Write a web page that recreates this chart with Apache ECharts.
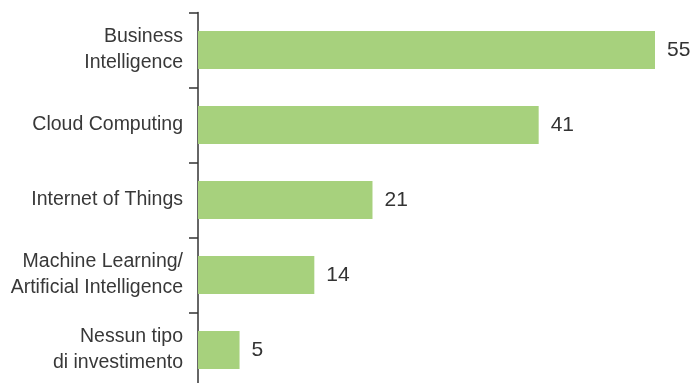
<!DOCTYPE html>
<html>
<head>
<meta charset="utf-8">
<script src="https://cdn.jsdelivr.net/npm/echarts@6/dist/echarts.min.js"></script>
<style>
html,body{margin:0;padding:0;background:#fff;}
#chart{width:690px;height:383px;}
</style>
</head>
<body>
<div id="chart"></div>
<script>
const categories = [
  "Business\nIntelligence",
  "Cloud Computing",
  "Internet of Things",
  "Machine Learning/\nArtificial Intelligence",
  "Nessun tipo\ndi investimento"
];
const values = [55, 41, 21, 14, 5];

const chart = echarts.init(document.getElementById('chart'), null, {renderer: 'canvas'});
chart.setOption({
  animation: false,
  backgroundColor: '#ffffff',
  grid: {left: 198, top: 12.5, width: 457, height: 375, containLabel: false, outerBoundsMode: 'none'},
  xAxis: {
    type: 'value', min: 0, max: 55, show: false
  },
  yAxis: {
    type: 'category',
    data: categories,
    inverse: true,
    axisLine: {show: true, lineStyle: {color: '#333333', width: 1.5}},
    axisTick: {show: true, length: 9, lineStyle: {color: '#333333', width: 1.5}},
    axisLabel: {
      margin: 15,
      color: '#383838',
      fontFamily: '"Liberation Sans Narrow", "Liberation Sans", Arial, sans-serif',
      fontSize: 19.5,
      lineHeight: 26,
      align: 'right'
    },
    splitLine: {show: false}
  },
  series: [{
    type: 'bar',
    data: values,
    barWidth: 38,
    itemStyle: {color: '#a7d17d'},
    label: {
      show: true,
      position: 'right',
      distance: 12,
      color: '#333333',
      fontFamily: '"Liberation Sans Narrow", "Liberation Sans", Arial, sans-serif',
      fontSize: 21
    }
  }]
});
</script>
</body>
</html>
